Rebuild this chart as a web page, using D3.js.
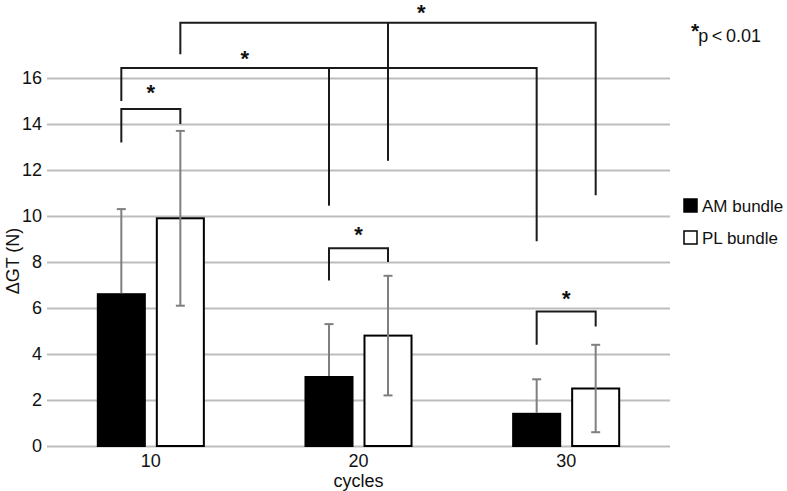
<!DOCTYPE html>
<html>
<head>
<meta charset="utf-8">
<script src="https://cdn.jsdelivr.net/npm/d3@7"></script>
<style>
  body { margin: 0; background: #fff; }
  svg { font-family: "Liberation Sans", Arial, sans-serif; }
</style>
</head>
<body>
<svg id="chart" width="787" height="491"></svg>
<script>
// data
var cycles = ["10", "20", "30"];
var bundles = ["AM bundle", "PL bundle"];
var amMeans = [6.6, 3.0, 1.4];
var amSD = [3.7, 2.3, 1.5];
var plMeans = [9.9, 4.8, 2.5];
var plSD = [3.8, 2.6, 1.9];
var yTicks = [0, 2, 4, 6, 8, 10, 12, 14, 16];

// significance brackets: legs are [cycle, bundle, bottom value], top is the bar height
var bracketLegs = [
    [["10", "AM bundle", 13.2], ["10", "PL bundle", 14.0]],
    [["10", "AM bundle", 15.0], ["20", "AM bundle", 10.45], ["30", "AM bundle", 8.9]],
    [["10", "PL bundle", 17.03], ["20", "PL bundle", 12.4], ["30", "PL bundle", 10.9]],
    [["20", "AM bundle", 7.2], ["20", "PL bundle", 8.0]],
    [["30", "AM bundle", 4.4], ["30", "PL bundle", 5.2]]
];
var bracketTops = [14.65, 16.43, 18.4, 8.6, 5.85];
var starFrac = [0.5, 0.297, 0.58, 0.5, 0.5];
var starValues = [15.6, 17.05, 19.07, 9.4, 6.65];

var svg = d3.select("#chart");

var left = 47, right = 670;
var fontSize = "18px";

var x = d3.scaleBand()
    .domain(cycles)
    .range([left, right]);

var xInner = d3.scaleBand()
    .domain(bundles)
    .range([0, x.bandwidth()])
    .paddingInner(0.203)
    .paddingOuter(0.861);

var y = d3.scaleLinear()
    .domain([0, 16])
    .range([446, 78]);

// gridlines + tick labels
var yAxis = svg.append("g")
    .attr("transform", "translate(" + left + ",0)")
    .call(d3.axisLeft(y).tickValues(yTicks).tickSize(-(right - left)).tickPadding(5));
yAxis.select(".domain").remove();
yAxis.selectAll(".tick line")
    .attr("stroke", "#bdbdbd")
    .attr("stroke-width", 2);
yAxis.selectAll(".tick text")
    .attr("fill", "#111")
    .style("font-size", fontSize)
    .style("font-family", "'Liberation Sans', Arial, sans-serif");

// bars
var rows = [];
cycles.forEach(function (c, i) {
    rows.push({ cycle: c, bundle: bundles[0], mean: amMeans[i], sd: amSD[i] });
    rows.push({ cycle: c, bundle: bundles[1], mean: plMeans[i], sd: plSD[i] });
});

svg.append("g").selectAll("rect")
    .data(rows)
    .join("rect")
    .attr("x", d => x(d.cycle) + xInner(d.bundle))
    .attr("y", d => y(d.mean))
    .attr("width", xInner.bandwidth())
    .attr("height", d => y(0) - y(d.mean))
    .attr("fill", d => d.bundle === bundles[0] ? "#000" : "#fff")
    .attr("stroke", "#000")
    .attr("stroke-width", 2);

// error bars (AM shows only the upper half)
var errG = svg.append("g")
    .attr("stroke", "#7f7f7f")
    .attr("stroke-width", 2);
var cap = 4.5;
rows.forEach(function (d) {
    var cx = x(d.cycle) + xInner(d.bundle) + xInner.bandwidth() / 2;
    var lo = d.bundle === bundles[0] ? d.mean : d.mean - d.sd;
    var hi = d.mean + d.sd;
    errG.append("line")
        .attr("x1", cx).attr("x2", cx)
        .attr("y1", d.bundle === bundles[0] ? y(lo) - 1 : y(lo)).attr("y2", y(hi));
    errG.append("line")
        .attr("x1", cx - cap).attr("x2", cx + cap)
        .attr("y1", y(hi)).attr("y2", y(hi));
    if (d.bundle !== bundles[0]) {
        errG.append("line")
            .attr("x1", cx - cap).attr("x2", cx + cap)
            .attr("y1", y(lo)).attr("y2", y(lo));
    }
});

// brackets
function legX(leg) {
    return x(leg[0]) + xInner(leg[1]) + xInner.bandwidth() / 2;
}

var brG = svg.append("g")
    .attr("fill", "none")
    .attr("stroke", "#1a1a1a")
    .attr("stroke-width", 2);

bracketLegs.forEach(function (legs, i) {
    var top = y(bracketTops[i]);
    var first = legs[0], last = legs[legs.length - 1];
    var path = d3.path();
    path.moveTo(legX(first), y(first[2]));
    path.lineTo(legX(first), top);
    path.lineTo(legX(last), top);
    path.lineTo(legX(last), y(last[2]));
    brG.append("path").attr("d", path.toString());
    legs.slice(1, -1).forEach(function (leg) {
        brG.append("line")
            .attr("x1", legX(leg)).attr("x2", legX(leg))
            .attr("y1", top).attr("y2", y(leg[2]));
    });

    var sx = legX(first) + (legX(last) - legX(first)) * starFrac[i];
    svg.append("text")
        .attr("x", sx)
        .attr("y", y(starValues[i]) + 12.5)
        .attr("text-anchor", "middle")
        .style("font-size", "22px")
        .style("font-weight", "bold")
        .attr("fill", "#111")
        .text("*");
});

// x labels
svg.append("g").selectAll("text")
    .data(cycles)
    .join("text")
    .attr("x", d => x(d) + x.bandwidth() / 2)
    .attr("y", 467)
    .attr("text-anchor", "middle")
    .style("font-size", fontSize)
    .attr("fill", "#111")
    .text(d => d);

svg.append("text")
    .attr("x", x("20") + x.bandwidth() / 2)
    .attr("y", 487)
    .attr("text-anchor", "middle")
    .style("font-size", fontSize)
    .attr("fill", "#111")
    .text("cycles");

// y label
svg.append("text")
    .attr("transform", "translate(19,261) rotate(-90)")
    .attr("text-anchor", "middle")
    .style("font-size", fontSize)
    .attr("fill", "#111")
    .text("ΔGT (N)");

// legend
var legend = svg.append("g").attr("transform", "translate(683,198)");
bundles.forEach(function (b, i) {
    legend.append("rect")
        .attr("x", 1)
        .attr("y", i * 32 + 1)
        .attr("width", 13)
        .attr("height", 13)
        .attr("fill", i === 0 ? "#000" : "#fff")
        .attr("stroke", "#000")
        .attr("stroke-width", 1.5);
    legend.append("text")
        .attr("x", 19)
        .attr("y", i * 32 + 14)
        .style("font-size", "17px")
        .attr("fill", "#111")
        .text(b);
});

// p-value note
var note = svg.append("text")
    .attr("x", 691)
    .attr("y", 42)
    .attr("fill", "#111")
    .style("font-size", fontSize);
note.append("tspan")
    .attr("dy", -4)
    .style("font-size", "21px")
    .style("font-weight", "bold")
    .text("*");
note.append("tspan")
    .attr("dy", 4)
    .attr("dx", -1)
    .text("p\u2009<\u20090.01");
</script>
</body>
</html>
